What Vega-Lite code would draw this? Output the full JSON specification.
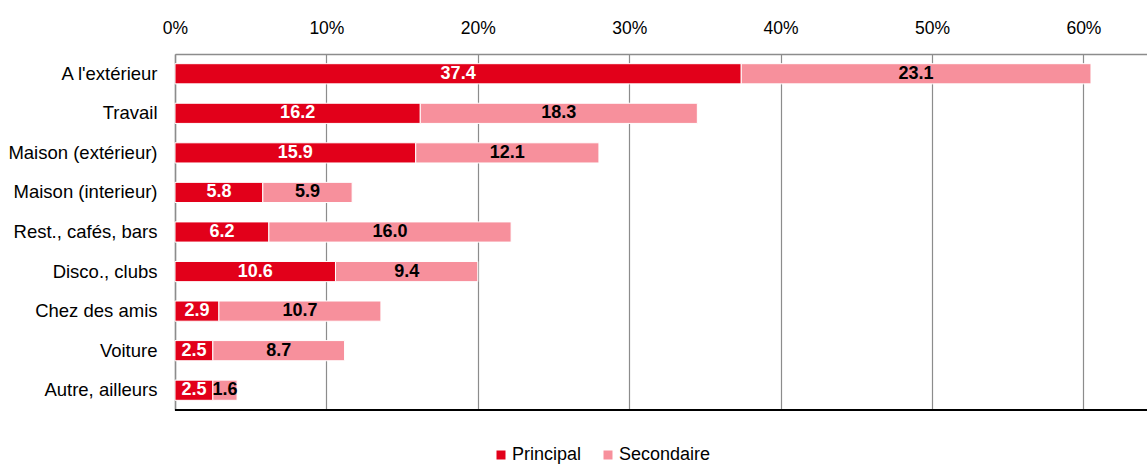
{
  "$schema": "https://vega.github.io/schema/vega-lite/v6.json",
  "autosize": {"type": "none"},
  "width": 972,
  "height": 356,
  "padding": {"left": 175, "top": 54, "right": 0, "bottom": 54},
  "background": "white",
  "config": {
    "view": {"stroke": null},
    "font": "Liberation Sans",
    "axis": {"labelFont": "Liberation Sans", "labelFontSize": 17.5, "labelColor": "#000000"},
    "legend": {"labelFont": "Liberation Sans", "labelFontSize": 18, "labelColor": "#000000"}
  },
  "data": {
    "values": [
      {"lieu": "A l'extérieur", "series": "Principal", "value": 37.4},
      {"lieu": "A l'extérieur", "series": "Secondaire", "value": 23.1},
      {"lieu": "Travail", "series": "Principal", "value": 16.2},
      {"lieu": "Travail", "series": "Secondaire", "value": 18.3},
      {"lieu": "Maison (extérieur)", "series": "Principal", "value": 15.9},
      {"lieu": "Maison (extérieur)", "series": "Secondaire", "value": 12.1},
      {"lieu": "Maison (interieur)", "series": "Principal", "value": 5.8},
      {"lieu": "Maison (interieur)", "series": "Secondaire", "value": 5.9},
      {"lieu": "Rest., cafés, bars", "series": "Principal", "value": 6.2},
      {"lieu": "Rest., cafés, bars", "series": "Secondaire", "value": 16.0},
      {"lieu": "Disco., clubs", "series": "Principal", "value": 10.6},
      {"lieu": "Disco., clubs", "series": "Secondaire", "value": 9.4},
      {"lieu": "Chez des amis", "series": "Principal", "value": 2.9},
      {"lieu": "Chez des amis", "series": "Secondaire", "value": 10.7},
      {"lieu": "Voiture", "series": "Principal", "value": 2.5},
      {"lieu": "Voiture", "series": "Secondaire", "value": 8.7},
      {"lieu": "Autre, ailleurs", "series": "Principal", "value": 2.5},
      {"lieu": "Autre, ailleurs", "series": "Secondaire", "value": 1.6}
    ]
  },
  "encoding": {
    "y": {
      "field": "lieu",
      "type": "nominal",
      "sort": null,
      "title": null,
      "scale": {"paddingInner": 0.49, "paddingOuter": 0.245},
      "axis": {"ticks": false, "labelPadding": 18, "labelFontSize": 18.5, "domainColor": "#8c8c8c", "domainWidth": 1.5}
    }
  },
  "layer": [
    {
      "mark": {"type": "bar", "stroke": "white", "strokeWidth": 1},
      "encoding": {
        "x": {
          "field": "value",
          "type": "quantitative",
          "stack": "zero",
          "title": null,
          "scale": {"domain": [0, 64.2], "nice": false},
          "axis": {
            "orient": "top",
            "values": [0, 10, 20, 30, 40, 50, 60],
            "labelExpr": "datum.value + '%'",
            "labelFlush": false,
            "ticks": false,
            "labelPadding": 17,
            "domainColor": "#8c8c8c",
            "domainWidth": 1.5,
            "grid": true,
            "gridColor": "#8c8c8c",
            "gridWidth": 1.2
          }
        },
        "order": {"field": "series"},
        "color": {
          "field": "series",
          "type": "nominal",
          "title": null,
          "scale": {"domain": ["Principal", "Secondaire"], "range": ["#E2001A", "#F7909C"]},
          "legend": {
            "orient": "none",
            "direction": "horizontal",
            "legendX": 317,
            "legendY": 392,
            "symbolType": "square",
            "symbolSize": 81,
            "symbolStrokeWidth": 0,
            "labelOffset": 2,
            "columnPadding": 17
          }
        }
      }
    },
    {
      "mark": {"type": "rule", "color": "#000000", "strokeWidth": 2},
      "data": {"values": [{"v": 0}]},
      "encoding": {
        "y": {"value": 356},
        "x": {"value": 0},
        "x2": {"value": 972}
      }
    },
    {
      "mark": {"type": "text", "fontSize": 18, "fontWeight": "bold", "font": "Liberation Sans"},
      "encoding": {
        "x": {"field": "value", "type": "quantitative", "stack": "zero", "bandPosition": 0.5},
        "order": {"field": "series"},
        "detail": {"field": "series"},
        "text": {"field": "value", "type": "quantitative", "format": ".1f"},
        "color": {
          "condition": {"test": "datum.series === 'Principal'", "value": "white"},
          "value": "black"
        }
      }
    }
  ]
}
